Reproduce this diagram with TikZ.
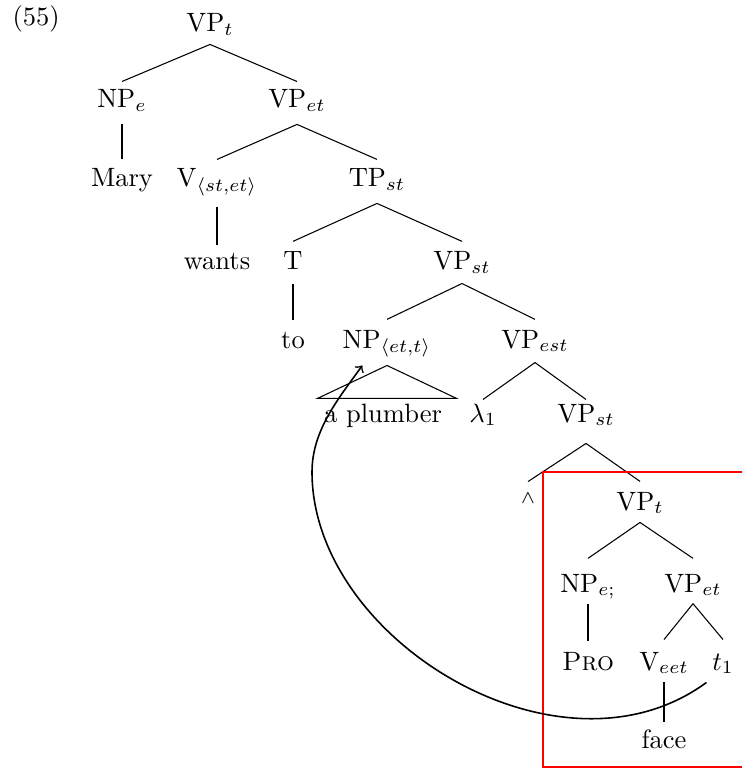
\documentclass[tikz,border=0pt]{standalone}
\usetikzlibrary{calc}
\begin{document}
\begin{tikzpicture}[x=0.3774pt,y=-0.3774pt,
  lbl/.style={anchor=base, inner sep=0pt, text height=10.2pt, text depth=5.7pt},
  edge/.style={line width=0.4pt},
  mover/.style={->, line width=0.6pt},
  box/.style={red, line width=0.4pt}]
\useasboundingbox (0,0) rectangle (741,769);
\node[anchor=base west, inner sep=0pt] (ex) at (12,26) {(55)};
% row 0
\node[lbl, text depth=4.5pt] (vpt) at (210,32) {VP$_t$};
% row 1
\node[lbl, text height=9.8pt, text depth=6pt] (npe) at (122,108) {NP$_e$};
\node[lbl, text height=9.8pt, text depth=6pt] (vpet) at (297,108) {VP$_{et}$};
% row 2
\node[lbl] (mary) at (122,187) {Mary};
\node[lbl, text depth=7.5pt] (v) at (217,187) {V$_{\langle st,et\rangle}$};
\node[lbl, text depth=6pt] (tp) at (377,187) {TP$_{st}$};
% row 3
\node[lbl, text height=9.4pt] (wants) at (217,270) {wants};
\node[lbl, text height=10.6pt, text depth=4.9pt] (t) at (293,270) {T};
\node[lbl, text height=10.6pt, text depth=4.9pt] (vpst) at (462,270) {VP$_{st}$};
% row 4
\node[lbl, text height=10.2pt] (to) at (293,348) {to};
\node[lbl, text height=10.6pt, text depth=6.4pt] (np) at (387,348) {NP$_{\langle et,t\rangle}$};
\node[lbl, text height=10.6pt, text depth=5.3pt] (vpest) at (535,348) {VP$_{est}$};
% row 5
\node[lbl, text height=8.7pt] (plumber) at (383,422) {a plumber};
\node[lbl, text height=8.3pt] (lam) at (483,422) {$\lambda_1$};
\node[lbl, text height=8.3pt, text depth=7.9pt] (vpstb) at (586,422) {VP$_{st}$};
% row 6
\node[lbl, text height=7.9pt] (wedge) at (528,503) {$\scriptstyle\wedge$};
\node[lbl, text height=10.6pt, text depth=4.5pt] (vptb) at (640,510) {VP$_t$};
% row 7
\node[lbl, text height=12.5pt, text depth=4.2pt] (npeb) at (588,592) {NP$_{e;}$};
\node[lbl, text height=12.5pt, text depth=4.2pt] (vpetb) at (693,592) {VP$_{et}$};
% row 8
\node[lbl, text height=10.6pt] (pro) at (588,670) {\textsc{Pro}};
\node[lbl, text height=11.3pt, text depth=4.5pt] (veet) at (664,670) {V$_{eet}$};
\node[lbl, text height=11.3pt, text depth=4.5pt] (tone) at (723,670) {$t_1$};
% row 9
\node[lbl, text height=9.8pt] (face) at (664,748) {face};

% edges
\draw[edge] (vpt.south) -- (npe.north);
\draw[edge] (vpt.south) -- (vpet.north);
\draw[edge] (npe.south) -- (mary.north);
\draw[edge] (vpet.south) -- (v.north);
\draw[edge] (vpet.south) -- (tp.north);
\draw[edge] (v.south) -- (wants.north);
\draw[edge] (tp.south) -- (t.north);
\draw[edge] (tp.south) -- (vpst.north);
\draw[edge] (t.south) -- (to.north);
\draw[edge] (vpst.south) -- (np.north);
\draw[edge] (vpst.south) -- (vpest.north);
\draw[edge] (np.south) -- ($(np.south |- plumber.north)+(-69.5,0)$)
   -- ($(np.south |- plumber.north)+(69.5,0)$) -- cycle;
\draw[edge] (vpest.south) -- (lam.north);
\draw[edge] (vpest.south) -- (vpstb.north);
\draw[edge] (vpstb.south) -- (wedge.north);
\draw[edge] (vpstb.south) -- (vptb.north);
\draw[edge] (vptb.south) -- (npeb.north);
\draw[edge] (vptb.south) -- (vpetb.north);
\draw[edge] (npeb.south) -- (pro.north);
\draw[edge] (vpetb.south) -- (veet.north);
\draw[edge] (vpetb.south) -- (tone.north);
\draw[edge] (veet.south) -- (face.north);

% red box (open on the right, runs off the picture)
\coordinate (boxtr) at (745,472);
\coordinate (boxbr) at (745,767);
\draw[box] (boxtr) -- (543,472) -- (543,767) -- (boxbr);

% movement arrow
\coordinate (bend) at (312,472);
\draw[mover] ([xshift=-2pt]tone.south west) .. controls (560,790) and (312,640) .. (bend)
  .. controls (312,430) and (339,398) .. ($(np.south west)!0.45!(np.south)$);
\end{tikzpicture}
\end{document}
